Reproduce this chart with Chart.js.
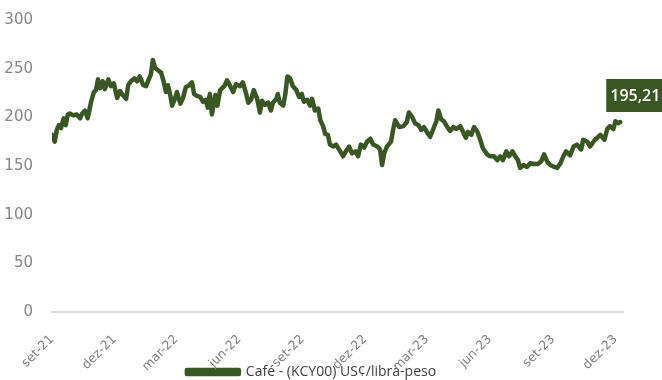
<!DOCTYPE html>
<html>
<head>
<meta charset="utf-8">
<script src="https://cdn.jsdelivr.net/npm/chart.js@4/dist/chart.umd.min.js"></script>
<style>
html,body{margin:0;padding:0;background:#fff;}
#wrap{width:662px;height:380px;position:relative;}
</style>
</head>
<body>
<div id="wrap"><canvas id="c" width="662" height="380"></canvas></div>
<script>
// Days since 2021-09-01 for each observation
const days = [0,4,7,10,13,17,20,23,26,31,36,41,44,48,52,57,61,64,67,70,74,77,82,86,90,95,99,103,108,111,115,120,124,128,133,137,141,144,147,150,155,159,163,166,169,172,175,179,182,187,191,195,200,204,207,211,216,220,224,227,230,233,238,241,245,251,255,259,264,268,274,278,283,286,290,294,299,303,306,310,315,319,322,327,329,332,337,340,343,347,351,356,360,364,367,372,376,379,383,388,391,395,398,402,405,410,414,420,424,429,433,437,442,446,450,455,459,464,468,474,478,481,484,488,494,497,500,506,512,517,520,525,529,534,538,542,547,551,555,560,563,567,571,576,580,585,589,595,599,603,606,611,615,620,624,628,634,638,644,649,653,657,662,666,671,675,679,682,687,692,697,703,708,713,717,722,726,732,736,741,745,749,755,760,765,771,774,780,784,790,799,805,809,813,818,821,825,828];
// Coffee price, US¢/lb
const prices = [182,175,187,192,189,199,192,203,204,202,203,199,204,207,199,216,226,228,239,230,237,229,239,232,235,220,227,223,219,233,237,240,237,242,233,232,239,244,259,251,248,246,236,226,233,224,212,219,226,214,220,231,233,236,224,222,221,216,218,210,224,203,223,212,228,232,238,233,226,234,232,236,224,215,218,228,219,205,217,213,215,207,215,219,224,215,212,224,242,240,232,228,221,224,216,218,212,219,207,209,197,191,183,182,172,170,172,165,160,166,170,163,165,160,172,169,175,178,172,170,167,151,163,170,175,187,197,190,191,195,205,200,194,192,187,190,184,180,187,196,207,198,196,190,186,190,188,191,185,179,185,182,190,185,177,168,162,160,160,156,160,156,165,160,165,160,156,148,151,149,153,152,152,155,162,154,151,149,148,153,160,165,161,170,172,167,177,175,170,176,182,177,188,191,188,196,194,195.21];
const quarterDays = [0,91,181,273,365,456,546,638,730,821];
const quarterLabels = ['set-21','dez-21','mar-22','jun-22','set-22','dez-22','mar-23','jun-23','set-23','dez-23'];
const yTicks = [0,50,100,150,200,250,300];
const seriesName = 'Café - (KCY00) US¢/libra-peso';
const lastLabel = '195,21';

const GREEN = '#385723';

const lastValuePlugin = {
  id: 'lastValue',
  afterDatasetsDraw(chart) {
    const meta = chart.getDatasetMeta(0);
    const pt = meta.data[meta.data.length - 1];
    const ctx = chart.ctx;
    ctx.save();
    ctx.font = '600 16px "Open Sans", sans-serif';
    const tw = ctx.measureText(lastLabel).width;
    const w = tw + 8, h = 33;
    const left = pt.x - 14;
    const bottom = pt.y - 10;
    ctx.fillStyle = GREEN;
    ctx.fillRect(left, bottom - h, w, h);
    ctx.fillStyle = '#ffffff';
    ctx.textAlign = 'center';
    ctx.textBaseline = 'middle';
    ctx.fillText(lastLabel, left + w / 2, bottom - h / 2 + 1);
    ctx.restore();
  }
};

const layoutTweak = {
  id: 'layoutTweak',
  afterLayout(chart) {
    // let rotated x labels run into the legend band, and drop legend to the bottom edge
    chart.scales.x.bottom = chart.height;
    chart.legend.top += 9;
    chart.legend.bottom += 9;
  }
};

new Chart(document.getElementById('c'), {
  type: 'line',
  data: {
    datasets: [{
      label: seriesName,
      data: days.map((d, i) => ({ x: d, y: prices[i] })),
      borderColor: GREEN,
      backgroundColor: GREEN,
      borderWidth: 4.5,
      pointRadius: 0,
      tension: 0,
      borderJoinStyle: 'round',
      borderCapStyle: 'round'
    }]
  },
  options: {
    responsive: false,
    animation: false,
    layout: { padding: { top: 5, right: 39, left: 0, bottom: 0 } },
    plugins: {
      legend: {
        position: 'bottom',
        labels: {
          boxWidth: 52,
          boxHeight: 4,
          padding: 4,
          color: '#404040',
          font: { family: '"Open Sans", sans-serif', size: 14 }
        }
      },
      tooltip: { enabled: false }
    },
    scales: {
      x: {
        type: 'linear',
        min: 0,
        max: 832,
        grid: { display: false },
        border: { display: true, color: '#d9d9d9', width: 2 },
        afterBuildTicks: s => { s.ticks = quarterDays.map(v => ({ value: v })); },
        afterFit: s => { s.height = 40; },
        ticks: {
          autoSkip: false,
          minRotation: 45,
          maxRotation: 45,
          padding: 12,
          color: '#808080',
          font: { family: '"DejaVu Sans", sans-serif', size: 12.5 },
          callback: v => { const i = quarterDays.indexOf(v); return i >= 0 ? quarterLabels[i] : ''; }
        }
      },
      y: {
        min: 0,
        max: 300,
        grid: { display: false },
        border: { display: false },
        afterBuildTicks: s => { s.ticks = yTicks.map(v => ({ value: v })); },
        afterFit: s => { s.width = 52; },
        ticks: {
          padding: 11,
          color: '#858585',
          font: { family: '"DejaVu Sans", sans-serif', size: 15 }
        }
      }
    }
  },
  plugins: [lastValuePlugin, layoutTweak]
});
</script>
</body>
</html>
